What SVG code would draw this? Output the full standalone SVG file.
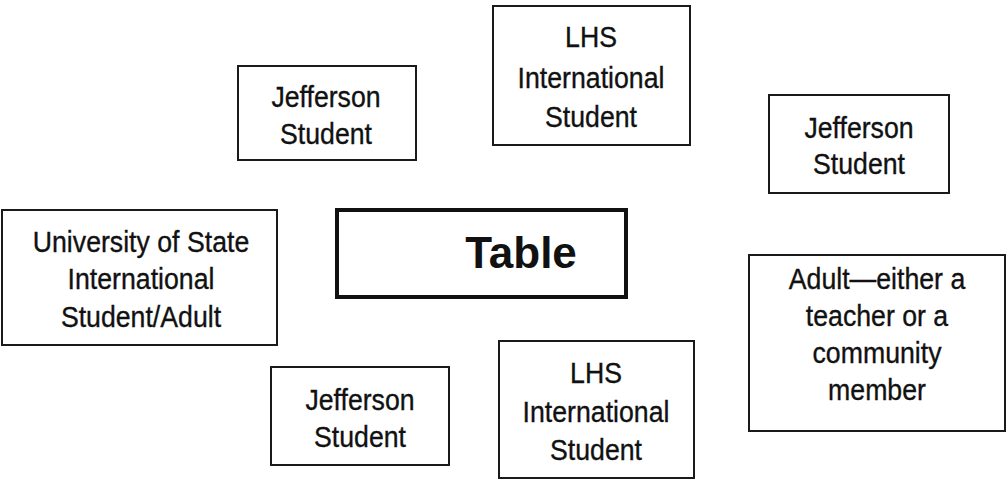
<svg xmlns="http://www.w3.org/2000/svg" width="1008" height="480" viewBox="0 0 1008 480">
  <style>
    .box { fill: #ffffff; stroke: #1a1a1a; stroke-width: 2; }
    .main { fill: #ffffff; stroke: #111111; stroke-width: 4; }
    .lbl { font-family: "Liberation Sans", Arial, sans-serif; font-size: 29px; fill: #111111; stroke: #111111; stroke-width: 0.35; text-anchor: middle; }
    .title { font-family: "Liberation Sans", Arial, sans-serif; font-size: 44px; font-weight: bold; fill: #111111; text-anchor: middle; }
  </style>
  <rect width="1008" height="480" fill="#ffffff"/>
  <g id="connectors"></g>

  <!-- labels are set slightly condensed: each block is centred with translate, then narrowed -->
  <g id="jefferson-top">
    <rect class="box" x="238" y="66" width="178" height="94"/>
    <g transform="translate(326 0) scale(0.92 1)">
      <text class="lbl" x="0" y="107">Jefferson</text>
      <text class="lbl" x="0" y="144">Student</text>
    </g>
  </g>

  <g id="lhs-top">
    <rect class="box" x="493" y="6" width="197" height="139"/>
    <g transform="translate(591 0) scale(0.92 1)">
      <text class="lbl" x="0" y="47">LHS</text>
      <text class="lbl" x="0" y="88">International</text>
      <text class="lbl" x="0" y="127">Student</text>
    </g>
  </g>

  <g id="jefferson-right">
    <rect class="box" x="769" y="95" width="180" height="98"/>
    <g transform="translate(859 0) scale(0.92 1)">
      <text class="lbl" x="0" y="138">Jefferson</text>
      <text class="lbl" x="0" y="174">Student</text>
    </g>
  </g>

  <g id="university">
    <rect class="box" x="2" y="210" width="275" height="135"/>
    <g transform="translate(141 0) scale(0.92 1)">
      <text class="lbl" x="0" y="252">University of State</text>
      <text class="lbl" x="0" y="289">International</text>
      <text class="lbl" x="0" y="327">Student/Adult</text>
    </g>
  </g>

  <g id="table">
    <rect class="main" x="337" y="210" width="289" height="87"/>
    <text class="title" x="521" y="268">Table</text>
  </g>

  <g id="adult">
    <rect class="box" x="749" y="255" width="256" height="176"/>
    <g transform="translate(877 0) scale(0.92 1)">
      <text class="lbl" x="0" y="289">Adult—either a</text>
      <text class="lbl" x="0" y="326">teacher or a</text>
      <text class="lbl" x="0" y="363">community</text>
      <text class="lbl" x="0" y="400">member</text>
    </g>
  </g>

  <g id="jefferson-bottom">
    <rect class="box" x="271" y="367" width="178" height="98"/>
    <g transform="translate(360 0) scale(0.92 1)">
      <text class="lbl" x="0" y="410">Jefferson</text>
      <text class="lbl" x="0" y="447">Student</text>
    </g>
  </g>

  <g id="lhs-bottom">
    <rect class="box" x="499" y="341" width="195" height="137"/>
    <g transform="translate(596 0) scale(0.92 1)">
      <text class="lbl" x="0" y="383">LHS</text>
      <text class="lbl" x="0" y="422">International</text>
      <text class="lbl" x="0" y="460">Student</text>
    </g>
  </g>
</svg>
